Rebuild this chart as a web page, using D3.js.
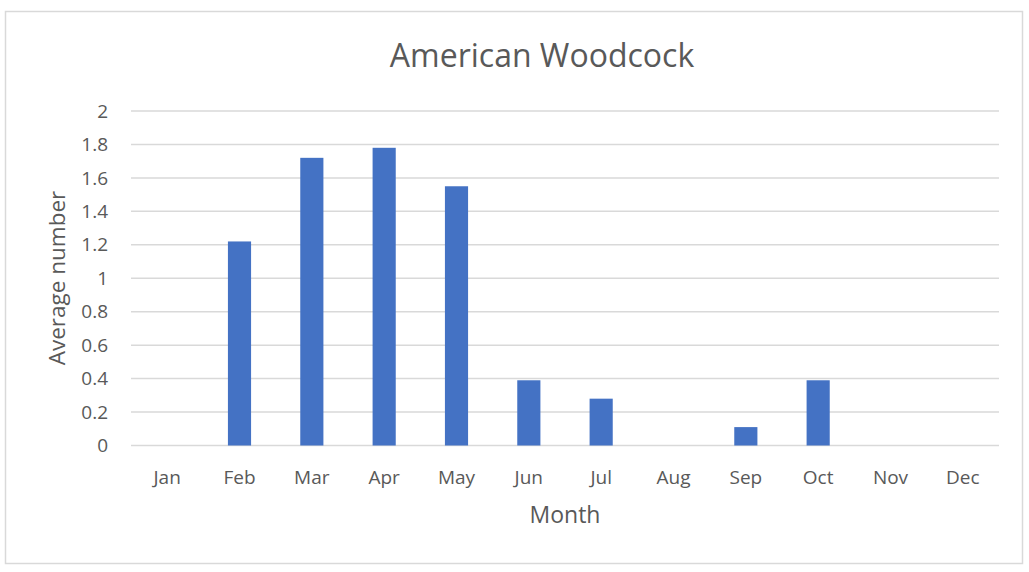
<!DOCTYPE html>
<html>
<head>
<meta charset="utf-8">
<script src="https://cdn.jsdelivr.net/npm/d3@7"></script>
<style>
  body { margin: 0; background: #fff; }
  text { font-family: "Open Sans", "Liberation Sans", sans-serif; fill: #595959; }
</style>
</head>
<body>
<script>
// chart data
const months = ['Jan', 'Feb', 'Mar', 'Apr', 'May', 'Jun', 'Jul', 'Aug', 'Sep', 'Oct', 'Nov', 'Dec'];
const averages = [0, 1.22, 1.72, 1.78, 1.55, 0.39, 0.28, 0, 0.11, 0.39, 0, 0];
const yTicks = [0, 0.2, 0.4, 0.6, 0.8, 1, 1.2, 1.4, 1.6, 1.8, 2];

const width = 1029, height = 572;
const plotLeft = 131, plotRight = 999, plotTop = 111, plotBottom = 445.5;

const svg = d3.select('body').append('svg')
    .attr('width', width)
    .attr('height', height);

// outer frame
svg.append('rect')
    .attr('x', 5.5).attr('y', 11.5)
    .attr('width', 1017).attr('height', 552)
    .attr('fill', '#fff')
    .attr('stroke', '#d9d9d9')
    .attr('stroke-width', 1.5);

const x = d3.scaleBand()
    .domain(months)
    .range([plotLeft, plotRight])
    .paddingInner(0.68)
    .paddingOuter(0.34);

const y = d3.scaleLinear()
    .domain([0, 2])
    .range([plotBottom, plotTop]);

// gridlines
svg.selectAll('line.grid')
    .data(yTicks)
    .enter()
  .append('line')
    .attr('class', 'grid')
    .attr('x1', plotLeft)
    .attr('x2', plotRight)
    .attr('y1', d => y(d))
    .attr('y2', d => y(d))
    .attr('stroke', '#d9d9d9')
    .attr('stroke-width', 1.5);

// y tick labels
svg.selectAll('text.ytick')
    .data(yTicks)
    .enter()
  .append('text')
    .attr('class', 'ytick')
    .attr('x', 108)
    .attr('y', d => y(d))
    .attr('dy', '0.35em')
    .attr('text-anchor', 'end')
    .style('font-size', '19px')
    .text(d => d);

// bars
svg.selectAll('rect.bar')
    .data(averages)
    .enter()
  .append('rect')
    .attr('class', 'bar')
    .attr('x', (d, i) => x(months[i]))
    .attr('width', x.bandwidth())
    .attr('y', d => y(d))
    .attr('height', d => y(0) - y(d))
    .attr('fill', '#4472c4');

// x tick labels
svg.selectAll('text.xtick')
    .data(months)
    .enter()
  .append('text')
    .attr('class', 'xtick')
    .attr('x', d => x(d) + x.bandwidth() / 2)
    .attr('y', 484)
    .attr('text-anchor', 'middle')
    .style('font-size', '19px')
    .text(d => d);

// title
svg.append('text')
    .attr('x', 542)
    .attr('y', 67)
    .attr('text-anchor', 'middle')
    .style('font-size', '32px')
    .text('American Woodcock');

// axis titles
svg.append('text')
    .attr('x', 565)
    .attr('y', 523)
    .attr('text-anchor', 'middle')
    .style('font-size', '23px')
    .text('Month');

svg.append('text')
    .attr('transform', 'translate(65,278) rotate(-90)')
    .attr('text-anchor', 'middle')
    .style('font-size', '22.5px')
    .text('Average number');
</script>
</body>
</html>
